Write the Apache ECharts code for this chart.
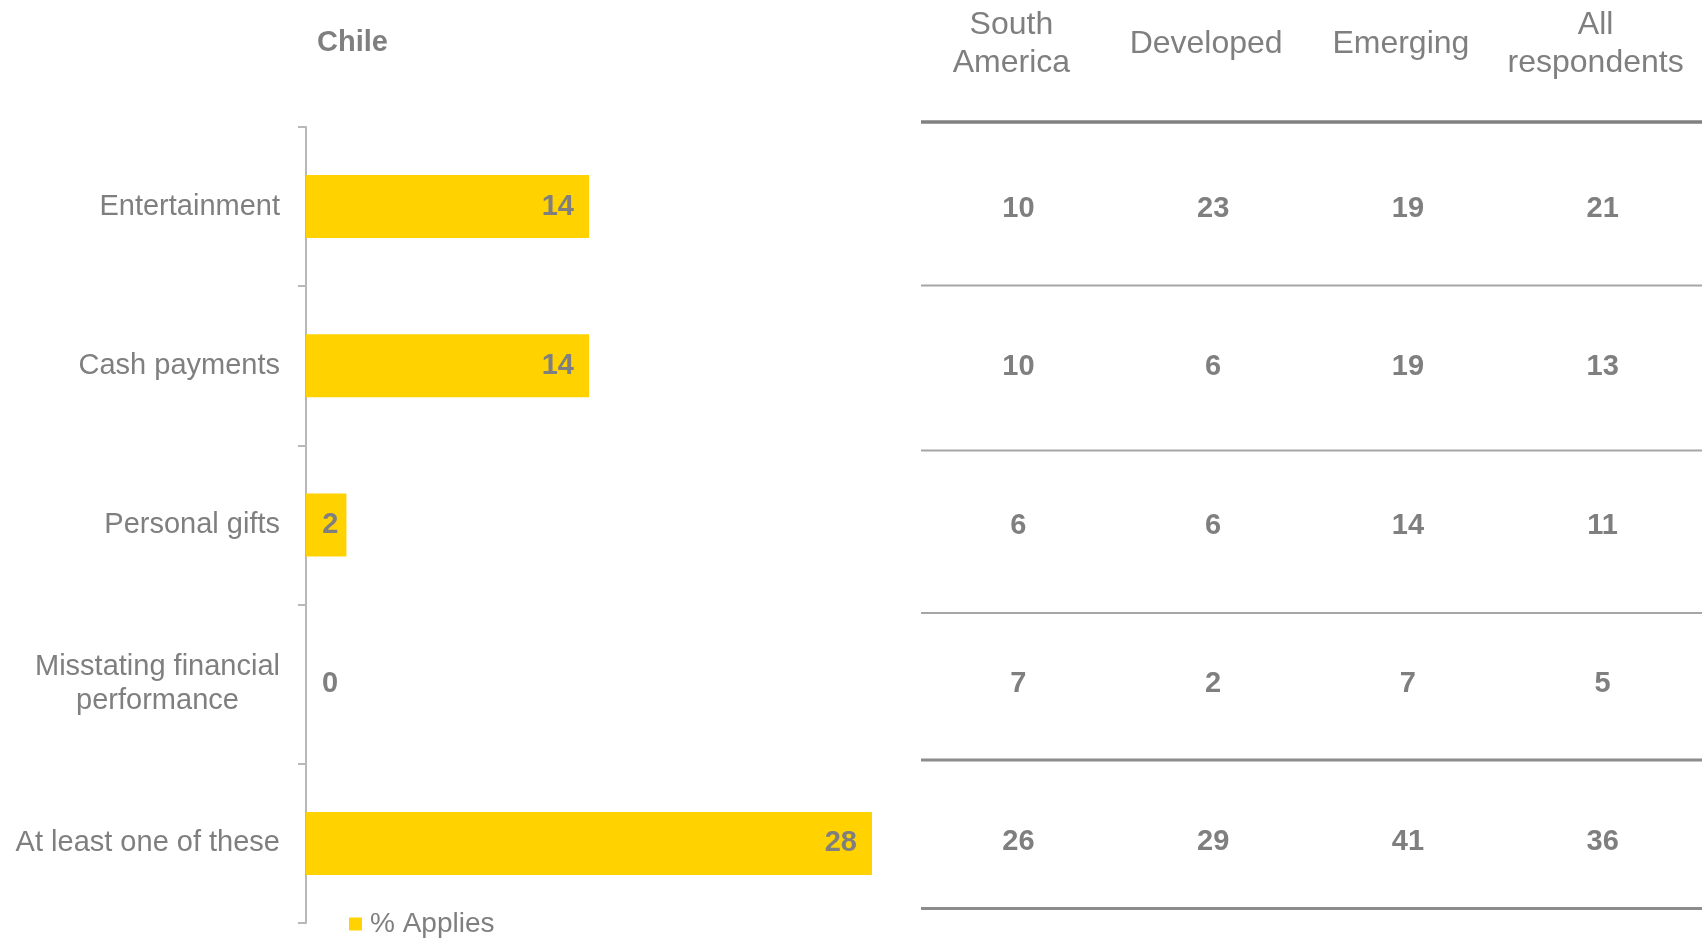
<!DOCTYPE html>
<html>
<head>
<meta charset="utf-8">
<script src="https://cdn.jsdelivr.net/npm/echarts@6/dist/echarts.min.js"></script>
<style>
  html, body { margin: 0; padding: 0; background: #fff; }
  #main { width: 1702px; height: 940px; }
</style>
</head>
<body>
<div id="main"></div>
<script>
// categories (left bar chart and table rows)
var categories = ['Entertainment', 'Cash payments', 'Personal gifts', 'Misstating financial\nperformance', 'At least one of these'];
// Chile, % applies
var chileValues = [14, 14, 2, 0, 28];
// table columns
var tableColumns = ['South\nAmerica', 'Developed', 'Emerging', 'All\nrespondents'];
var southAmerica = [10, 10, 6, 7, 26];
var developed = [23, 6, 6, 2, 29];
var emerging = [19, 19, 14, 7, 41];
var allRespondents = [21, 13, 11, 5, 36];

var FONT = '"Liberation Sans", Arial, sans-serif';
var GRAY = '#7f7f7f';
var YELLOW = '#FFD200';

var chart = echarts.init(document.getElementById('main'));

// table cells: [column, row, value]
var tableData = [];
[southAmerica, developed, emerging, allRespondents].forEach(function(col, ci){
	col.forEach(function(v, ri){
		tableData.push([ci, ri, v]);
	});
});

var barData = chileValues.map(function(v){
	if (v === 0) {
		return {value: v, label: {position: 'right', distance: 16}};
	}
	if (v < 5) {
		return {value: v, label: {distance: 8}};
	}
	return v;
});

function rule(y, w, color){
	return {
		type: 'line',
		shape: {x1: 921, y1: y, x2: 1702, y2: y},
		style: {stroke: color, lineWidth: w},
		silent: true
	};
}

var option = {
	animation: false,
	textStyle: {fontFamily: FONT},
	title: {
		text: 'Chile',
		left: 317,
		top: 26,
		padding: 0,
		textStyle: {fontFamily: FONT, fontSize: 29, fontWeight: 'bold', color: GRAY, lineHeight: 34}
	},
	legend: {
		data: ['% Applies'],
		left: 349,
		top: 909,
		padding: 0,
		icon: 'rect',
		itemWidth: 13,
		itemHeight: 13,
		textStyle: {fontFamily: FONT, fontSize: 28, color: GRAY, lineHeight: 30, padding: [0, 0, 0, 3]}
	},
	grid: [
		{left: 306, top: 127, width: 566, height: 796},
		{left: 921, top: 130, width: 779, height: 791}
	],
	xAxis: [
		{
			gridIndex: 0,
			type: 'value',
			min: 0,
			max: 28,
			show: false
		},
		{
			gridIndex: 1,
			type: 'category',
			data: tableColumns,
			position: 'top',
			axisLine: {show: false},
			axisTick: {show: false},
			splitLine: {show: false},
			axisLabel: {
				interval: 0,
				margin: 86,
				verticalAlign: 'middle',
				fontFamily: FONT,
				fontSize: 32,
				lineHeight: 38,
				color: GRAY,
				padding: [0, 14, 0, 0]
			}
		}
	],
	yAxis: [
		{
			gridIndex: 0,
			type: 'category',
			inverse: true,
			data: categories,
			axisLine: {show: true, lineStyle: {color: '#b8b8b8', width: 2}},
			axisTick: {show: true, length: 8, lineStyle: {color: '#b8b8b8', width: 2}},
			splitLine: {show: false},
			axisLabel: {
				interval: 0,
				margin: 26,
				formatter: function(v){
					return v.split('\n').map(function(s){ return '{c|' + s + '}'; }).join('\n');
				},
				rich: {
					c: {align: 'center', fontFamily: FONT, fontSize: 29, color: GRAY, lineHeight: 34}
				}
			}
		},
		{
			gridIndex: 1,
			type: 'category',
			inverse: true,
			data: categories,
			show: false
		}
	],
	series: [
		{
			name: '% Applies',
			type: 'bar',
			xAxisIndex: 0,
			yAxisIndex: 0,
			barWidth: 63,
			itemStyle: {color: YELLOW},
			label: {
				show: true,
				position: 'insideRight',
				distance: 15,
				fontFamily: FONT,
				fontSize: 29,
				fontWeight: 'bold',
				color: GRAY
			},
			data: barData
		},
		{
			name: 'table',
			type: 'scatter',
			xAxisIndex: 1,
			yAxisIndex: 1,
			symbolSize: 1,
			itemStyle: {color: 'rgba(0,0,0,0)', opacity: 1},
			label: {
				show: true,
				position: 'inside',
				opacity: 1,
				formatter: function(p){ return p.value[2]; },
				fontFamily: FONT,
				fontSize: 29,
				fontWeight: 'bold',
				color: GRAY
			},
			data: tableData
		}
	],
	graphic: [
		rule(122, 3.5, '#808080'),
		rule(285.5, 2, '#a6a6a6'),
		rule(450.5, 2, '#a6a6a6'),
		rule(613, 2, '#a6a6a6'),
		rule(760, 3, '#8c8c8c'),
		rule(908.5, 3, '#8c8c8c')
	]
};

chart.setOption(option);
</script>
</body>
</html>
